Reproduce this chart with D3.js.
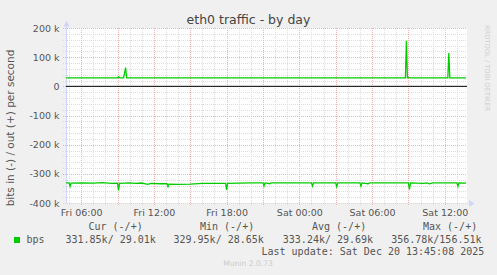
<!doctype html>
<html lang="en">
<head>
<meta charset="utf-8">
<title>eth0 traffic - by day</title>
<script src="https://d3js.org/d3.v7.min.js"></script>
<style>
  html, body { margin: 0; padding: 0; background: #f0f0f0; }
  svg { display: block; }
  .sans { font-family: "DejaVu Sans", sans-serif; }
  .mono { font-family: "DejaVu Sans Mono", monospace; }
</style>
</head>
<body>
<div id="chart"></div>
<script>
var parse = d3.timeParse("%Y-%m-%d %H:%M");

// out (+) traffic, kbit/s
var outSeries = [
  ["2025-12-19 04:45", 29.0], ["2025-12-19 07:00", 29.2], ["2025-12-19 09:00", 29.0],
  ["2025-12-19 09:05", 33.0], ["2025-12-19 09:10", 29.3], ["2025-12-19 09:30", 29.0],
  ["2025-12-19 09:35", 46.0], ["2025-12-19 09:40", 64.0], ["2025-12-19 09:45", 29.2],
  ["2025-12-19 12:00", 29.0], ["2025-12-19 15:00", 28.8], ["2025-12-19 18:00", 29.1],
  ["2025-12-20 00:00", 28.9], ["2025-12-20 04:00", 29.0], ["2025-12-20 08:45", 29.1],
  ["2025-12-20 08:50", 156.5], ["2025-12-20 08:55", 29.5], ["2025-12-20 09:00", 31.0],
  ["2025-12-20 09:05", 29.2], ["2025-12-20 12:15", 29.0], ["2025-12-20 12:20", 114.0],
  ["2025-12-20 12:25", 29.3], ["2025-12-20 13:45", 29.0]
];

// in (-) traffic, kbit/s
var inSeries = [
  ["2025-12-19 04:45", -331], ["2025-12-19 05:00", -331], ["2025-12-19 05:05", -343],
  ["2025-12-19 05:10", -331.5], ["2025-12-19 06:00", -331], ["2025-12-19 07:00", -332],
  ["2025-12-19 07:45", -330], ["2025-12-19 08:00", -331], ["2025-12-19 08:30", -333],
  ["2025-12-19 09:00", -332], ["2025-12-19 09:05", -356.78], ["2025-12-19 09:10", -333],
  ["2025-12-19 10:00", -331], ["2025-12-19 10:30", -333], ["2025-12-19 11:00", -331.5],
  ["2025-12-19 11:30", -336], ["2025-12-19 11:45", -333], ["2025-12-19 12:30", -334],
  ["2025-12-19 13:05", -334], ["2025-12-19 13:10", -344], ["2025-12-19 13:15", -335],
  ["2025-12-19 14:00", -336], ["2025-12-19 15:00", -335], ["2025-12-19 16:00", -333],
  ["2025-12-19 17:55", -333], ["2025-12-19 18:00", -355], ["2025-12-19 18:05", -333],
  ["2025-12-19 19:00", -332], ["2025-12-19 20:00", -331], ["2025-12-19 21:00", -331],
  ["2025-12-19 21:05", -342], ["2025-12-19 21:10", -331], ["2025-12-19 21:35", -334],
  ["2025-12-19 21:40", -331], ["2025-12-20 01:00", -331], ["2025-12-20 01:05", -342],
  ["2025-12-20 01:10", -331], ["2025-12-20 03:00", -331], ["2025-12-20 03:05", -344],
  ["2025-12-20 03:10", -331], ["2025-12-20 05:00", -331], ["2025-12-20 05:05", -342],
  ["2025-12-20 05:10", -331], ["2025-12-20 05:40", -334], ["2025-12-20 05:50", -331],
  ["2025-12-20 09:00", -331], ["2025-12-20 09:05", -353], ["2025-12-20 09:10", -331],
  ["2025-12-20 10:15", -333], ["2025-12-20 10:30", -331], ["2025-12-20 10:45", -334],
  ["2025-12-20 11:00", -331], ["2025-12-20 13:00", -331], ["2025-12-20 13:05", -343],
  ["2025-12-20 13:10", -331], ["2025-12-20 13:45", -331.85]
];

var yTicks = [200000, 100000, 0, -100000, -200000, -300000, -400000];
var timeStart = "2025-12-19 04:45", timeEnd = "2025-12-20 13:45";

var legendName = "bps";
var legendHeads = ["Cur (-/+)", "Min (-/+)", "Avg (-/+)", "Max (-/+)"];
var legendVals = ["331.85k/ 29.01k", "329.95k/ 28.65k", "333.24k/ 29.69k", "356.78k/156.51k"];
var lastUpdate = "Last update: Sat Dec 20 13:45:08 2025";

var W = 497, H = 275;
var pLeft = 66, pRight = 466, pTop = 28, pBottom = 203;
var green = "#00cc00", fontCol = "#555", axisCol = "#cfd6f8";
var minorCol = "#dcdcdc", majorCol = "#f2b0b0";

var svg = d3.select("#chart").append("svg")
    .attr("width", W).attr("height", H);

svg.append("rect").attr("width", W).attr("height", H).attr("fill", "#f0f0f0");

var x = d3.scaleTime().domain([parse(timeStart), parse(timeEnd)]).range([pLeft, pRight]);
var y = d3.scaleLinear().domain([-400000, 200000]).range([pBottom, pTop]);

// canvas
svg.append("rect")
    .attr("x", pLeft).attr("y", pTop)
    .attr("width", pRight - pLeft + 1).attr("height", pBottom - pTop)
    .attr("fill", "#fff");

// grid
var grid = svg.append("g").attr("shape-rendering", "crispEdges");
var hours = d3.timeHour.range(x.domain()[0], x.domain()[1]);
var minorX = hours.filter(function (d) { return d.getHours() % 3 != 0; });
var majorX = hours.filter(function (d) { return d.getHours() % 3 == 0; });
var minorY = d3.range(-400000, 200001, 20000).filter(function (d) { return d % 100000 != 0; });

grid.selectAll(".vmin").data(minorX).enter().append("line")
    .attr("x1", function (d) { return Math.round(x(d)) + 0.5; })
    .attr("x2", function (d) { return Math.round(x(d)) + 0.5; })
    .attr("y1", pTop).attr("y2", pBottom + 3)
    .attr("stroke", minorCol).attr("stroke-dasharray", "1,1");
grid.selectAll(".hmin").data(minorY).enter().append("line")
    .attr("y1", function (d) { return Math.round(y(d)) + 0.5; })
    .attr("y2", function (d) { return Math.round(y(d)) + 0.5; })
    .attr("x1", pLeft - 3).attr("x2", pRight + 1)
    .attr("stroke", minorCol).attr("stroke-dasharray", "1,1");
grid.selectAll(".vmaj").data(majorX).enter().append("line")
    .attr("x1", function (d) { return Math.round(x(d)) + 0.5; })
    .attr("x2", function (d) { return Math.round(x(d)) + 0.5; })
    .attr("y1", pTop).attr("y2", pBottom + 3)
    .attr("stroke", majorCol).attr("stroke-dasharray", "1,1");
grid.selectAll(".hmaj").data(yTicks).enter().append("line")
    .attr("y1", function (d) { return Math.round(y(d)) + 0.5; })
    .attr("y2", function (d) { return Math.round(y(d)) + 0.5; })
    .attr("x1", pLeft - 3).attr("x2", pRight + 1)
    .attr("stroke", majorCol).attr("stroke-dasharray", "1,1");

// axes lines + arrows
svg.append("line").attr("x1", pLeft + 0.5).attr("x2", pLeft + 0.5)
    .attr("y1", pBottom).attr("y2", 24).attr("stroke", axisCol);
svg.append("path").attr("d", "M63.5,26.5L69.5,26.5L66.5,20.5Z").attr("fill", axisCol);
svg.append("line").attr("x1", pLeft - 3).attr("x2", 470)
    .attr("y1", pBottom + 0.5).attr("y2", pBottom + 0.5)
    .attr("stroke", axisCol).attr("stroke-dasharray", "1,1");
svg.append("path").attr("d", "M469,200L469,207L474.5,203.5Z").attr("fill", axisCol);

// y labels
var yAxis = svg.append("g")
    .attr("transform", "translate(" + pLeft + ",0)")
    .call(d3.axisLeft(y).tickValues(yTicks).tickSize(0).tickPadding(6.5)
        .tickFormat(function (d) { return d == 0 ? "0" : (d / 1000) + " k"; }));
yAxis.select(".domain").remove();
yAxis.selectAll("text").attr("class", "sans").attr("font-size", "9.5px").attr("fill", fontCol);

// x labels
var xAxis = svg.append("g")
    .attr("transform", "translate(0," + pBottom + ")")
    .call(d3.axisBottom(x).ticks(d3.timeHour.every(6)).tickSize(0).tickPadding(6.3)
        .tickFormat(d3.timeFormat("%a %H:%M")));
xAxis.select(".domain").remove();
xAxis.selectAll("text").attr("class", "sans").attr("font-size", "9.5px").attr("fill", fontCol);

// zero rule
svg.append("line").attr("x1", pLeft).attr("x2", pRight + 1)
    .attr("y1", y(0)).attr("y2", y(0)).attr("stroke", "#000");

// data
var line = d3.line()
    .x(function (d) { return x(parse(d[0])); })
    .y(function (d) { return y(d[1] * 1000); });
[outSeries, inSeries].forEach(function (s) {
  svg.append("path").datum(s)
      .attr("d", line).attr("fill", "none")
      .attr("stroke", green).attr("stroke-width", 1.3);
});

// title
svg.append("text").attr("class", "sans")
    .attr("x", 248.5).attr("y", 24).attr("text-anchor", "middle")
    .attr("font-size", "12.5px").attr("fill", "#444")
    .text("eth0 traffic - by day");

// vertical label
svg.append("text").attr("class", "sans")
    .attr("transform", "translate(13.5,128) rotate(-90)")
    .attr("text-anchor", "middle").attr("font-size", "10.5px").attr("fill", fontCol)
    .text("bits in (-) / out (+) per second");

// watermark
svg.append("text").attr("class", "sans")
    .attr("transform", "translate(485,25) rotate(90)")
    .attr("font-size", "6.7px").attr("fill", "#cfcfcf")
    .text("RRDTOOL / TOBI OETIKER");

// legend
var headX = [88.5, 200, 312, 423];
var valX = [65.5, 173.5, 282.8, 391.2];
svg.append("rect").attr("x", 14).attr("y", 237).attr("width", 6).attr("height", 6).attr("fill", green);
svg.append("text").attr("class", "mono").attr("x", 26.5).attr("y", 242.5)
    .attr("font-size", "10px").attr("fill", fontCol).text(legendName);
svg.selectAll(".lh").data(legendHeads).enter().append("text")
    .attr("class", "mono").attr("x", function (d, i) { return headX[i]; }).attr("y", 230)
    .attr("font-size", "10px").attr("fill", fontCol)
    .style("white-space", "pre").text(function (d) { return d; });
svg.selectAll(".lv").data(legendVals).enter().append("text")
    .attr("class", "mono").attr("x", function (d, i) { return valX[i]; }).attr("y", 242.5)
    .attr("font-size", "10px").attr("fill", fontCol)
    .style("white-space", "pre").text(function (d) { return d; });
svg.append("text").attr("class", "mono").attr("x", 261.5).attr("y", 254.5)
    .attr("font-size", "10px").attr("fill", fontCol).style("white-space", "pre")
    .text(lastUpdate);

svg.append("text").attr("class", "sans").attr("x", 248).attr("y", 266)
    .attr("text-anchor", "middle").attr("font-size", "7.6px").attr("fill", "#cccccc")
    .text("Munin 2.0.73");
</script>
</body>
</html>
